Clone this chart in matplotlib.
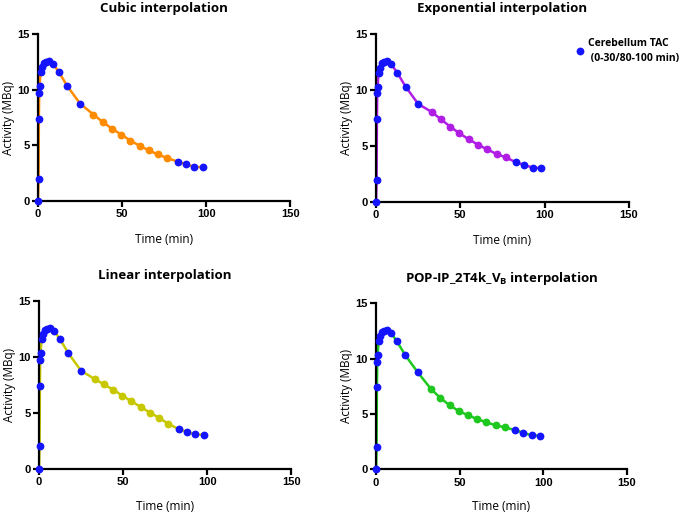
import matplotlib
matplotlib.use("Agg")
import matplotlib.pyplot as plt

# Measured cerebellum TAC (0-30 / 80-100 min)
t_early = [0, 0.3, 0.5, 0.7, 0.9, 1.5, 2.5, 3.5, 5, 6.5, 9, 12.5, 17.5, 25]
y_early = [0, 2.0, 7.4, 9.7, 10.3, 11.55, 12.0, 12.4, 12.5, 12.6, 12.3, 11.55, 10.3, 8.75]
t_late = [83, 88, 93, 98]
y_late = [3.55, 3.31, 3.07, 3.04]

# Interpolated points in the 30-80 min gap
t_gap = [33, 38.5, 44, 49.5, 55, 60.5, 66, 71.5, 77]
y_cubic = [7.76, 7.10, 6.50, 5.97, 5.43, 4.96, 4.54, 4.18, 3.85]
y_expo = [8.04, 7.38, 6.73, 6.13, 5.60, 5.12, 4.70, 4.29, 3.99]
y_linear = [8.02, 7.54, 7.07, 6.53, 6.03, 5.52, 5.02, 4.54, 4.01]
y_pop = [7.23, 6.45, 5.78, 5.27, 4.88, 4.55, 4.25, 3.98, 3.80]

titles = ["Cubic interpolation", "Exponential interpolation",
          "Linear interpolation", r"POP-IP_2T4k_V$_\mathregular{B}$ interpolation"]
gaps = [y_cubic, y_expo, y_linear, y_pop]
colors = ["#ff8c00", "#b01ee6", "#c8c800", "#1ec81e"]
positions = [[0.0555, 0.608, 0.368, 0.326],
             [0.549, 0.606, 0.369, 0.328],
             [0.057, 0.086, 0.368, 0.328],
             [0.549, 0.085, 0.366, 0.324]]

blue = "#1414ff"
fig = plt.figure(figsize=(6.85, 5.13), dpi=100)

for i in range(4):
    ax = fig.add_axes(positions[i])
    t_all = t_early + t_gap + t_late
    y_all = y_early + gaps[i] + y_late
    ax.plot(t_all, y_all, color=colors[i], lw=1.8, zorder=2)
    ax.plot(t_gap, gaps[i], "o", color=colors[i], ms=4.6, zorder=3)
    ax.plot(t_early + t_late, y_early + y_late, "o", color=blue, ms=4.6, zorder=4,
            label="Cerebellum TAC\n (0-30/80-100 min)", clip_on=False)

    ax.set_xlim(0, 150)
    ax.set_ylim(0, 15)
    ax.set_xticks([0, 50, 100, 150])
    ax.set_yticks([0, 5, 10, 15])
    for s in ["top", "right"]:
        ax.spines[s].set_visible(False)
    for s in ["left", "bottom"]:
        ax.spines[s].set_linewidth(1.6)
    ax.tick_params(width=1.6, length=4, direction="out", pad=2)
    for lab in ax.get_xticklabels() + ax.get_yticklabels():
        lab.set_fontfamily("Liberation Sans")
        lab.set_fontweight("bold")
        lab.set_fontsize(8)

    ax.set_title(titles[i], fontfamily="Open Sans", fontweight="bold", fontsize=9.5, pad=15.5)
    ax.set_xlabel("Time (min)", fontfamily="Open Sans", fontsize=8.5,
                  labelpad=10 if i < 2 else 9)
    ax.set_ylabel("Activity (MBq)", fontfamily="Open Sans", fontsize=8.5, labelpad=2)

    if i == 1:
        leg = ax.legend(loc="upper left", bbox_to_anchor=(0.765, 1.0), frameon=False,
                        handletextpad=0.2, borderaxespad=0, handlelength=1.2,
                        labelspacing=0.3,
                        prop={"family": "Open Sans", "weight": "bold", "size": 7.5})
        for t in leg.get_texts():
            t.set_linespacing(1.45)

fig.savefig("out.png", dpi=100)
